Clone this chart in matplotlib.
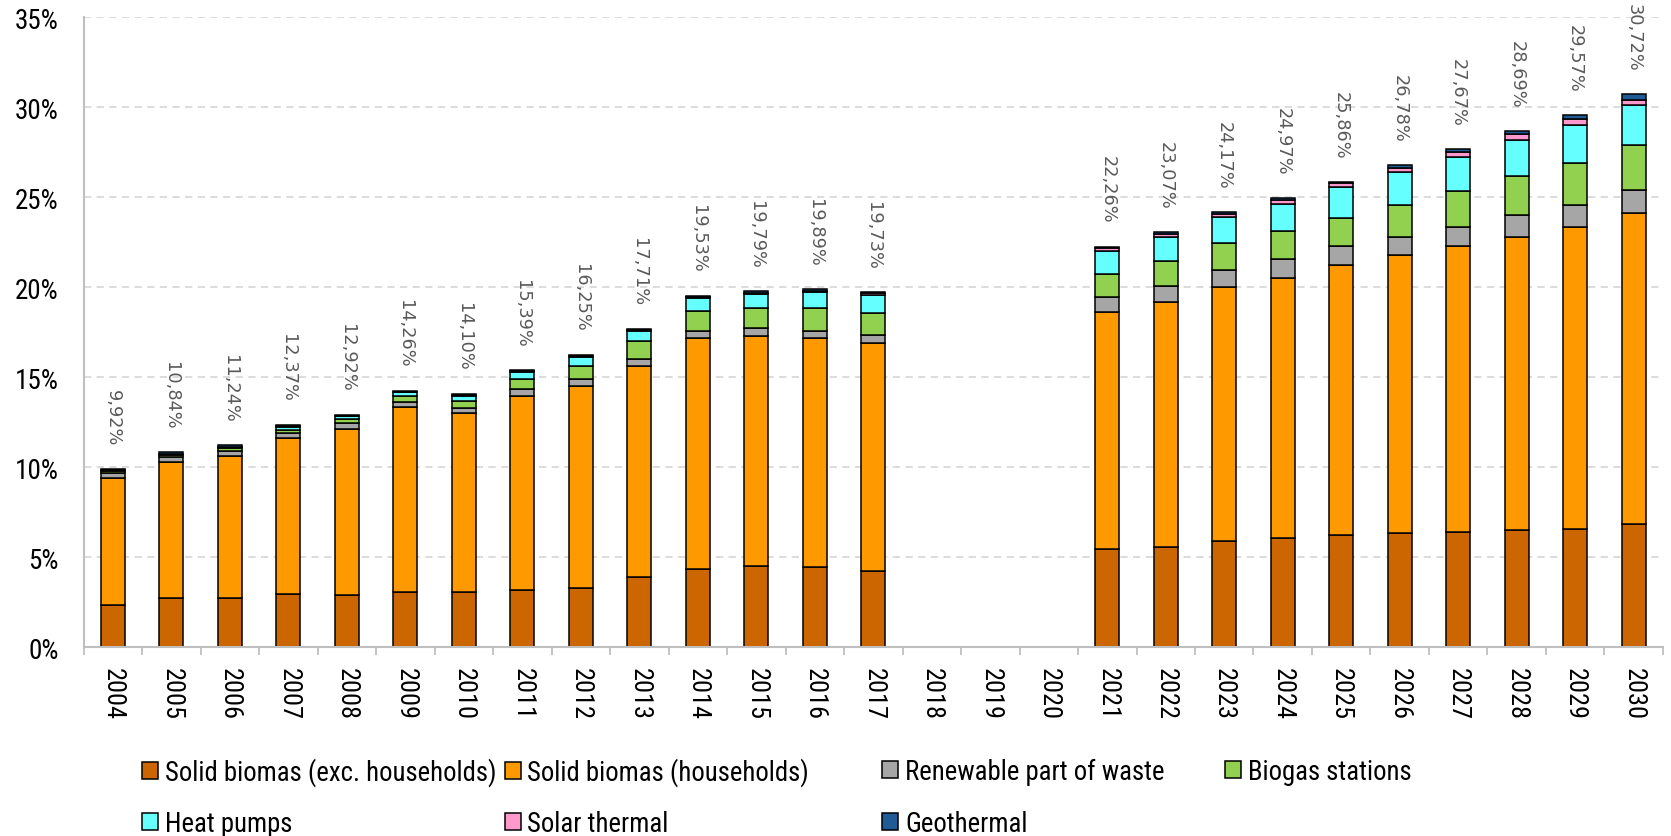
import numpy as np
import matplotlib
matplotlib.use("Agg")
import matplotlib.pyplot as plt
from matplotlib.patches import Patch
from matplotlib.font_manager import FontProperties, findfont

years = [str(y) for y in range(2004, 2031)]
N = None
solid_exc = [2.37, 2.72, 2.72, 2.94, 2.93, 3.09, 3.07, 3.18, 3.29, 3.89, 4.35, 4.53, 4.48, 4.26,
             N, N, N, 5.46, 5.56, 5.92, 6.06, 6.24, 6.36, 6.43, 6.50, 6.55, 6.85]
solid_hh = [7.02, 7.56, 7.91, 8.70, 9.20, 10.24, 9.93, 10.80, 11.25, 11.76, 12.82, 12.78, 12.70, 12.65,
            N, N, N, 13.18, 13.64, 14.08, 14.46, 14.98, 15.41, 15.85, 16.32, 16.79, 17.26]
waste = [0.28, 0.28, 0.29, 0.28, 0.31, 0.31, 0.31, 0.37, 0.37, 0.37, 0.39, 0.43, 0.41, 0.44,
         N, N, N, 0.84, 0.89, 0.98, 1.05, 1.08, 1.05, 1.08, 1.22, 1.26, 1.29]
biogas = [0.14, 0.11, 0.15, 0.17, 0.24, 0.30, 0.39, 0.56, 0.74, 1.02, 1.14, 1.11, 1.26, 1.22,
          N, N, N, 1.26, 1.39, 1.46, 1.54, 1.57, 1.76, 1.97, 2.13, 2.32, 2.48]
heat_pumps = [0.03, 0.05, 0.05, 0.16, 0.15, 0.23, 0.28, 0.37, 0.46, 0.51, 0.69, 0.80, 0.87, 1.00,
              N, N, N, 1.26, 1.33, 1.45, 1.52, 1.71, 1.80, 1.90, 2.04, 2.11, 2.23]
solar = [0.02, 0.03, 0.03, 0.05, 0.04, 0.04, 0.04, 0.05, 0.06, 0.07, 0.06, 0.06, 0.08, 0.09,
         N, N, N, 0.16, 0.16, 0.17, 0.22, 0.20, 0.24, 0.28, 0.30, 0.30, 0.32]
geothermal = [0.06, 0.09, 0.09, 0.07, 0.05, 0.05, 0.08, 0.06, 0.08, 0.09, 0.08, 0.08, 0.09, 0.07,
              N, N, N, 0.10, 0.10, 0.11, 0.12, 0.08, 0.16, 0.16, 0.18, 0.24, 0.29]
totals = [9.92, 10.84, 11.24, 12.37, 12.92, 14.26, 14.10, 15.39, 16.25, 17.71, 19.53, 19.79, 19.89, 19.73,
          N, N, N, 22.26, 23.07, 24.17, 24.97, 25.86, 26.78, 27.67, 28.69, 29.57, 30.72]

series_names = ["Solid biomas (exc. households)", "Solid biomas (households)",
                "Renewable part of waste", "Biogas stations", "Heat pumps",
                "Solar thermal", "Geothermal"]
series_vals = [solid_exc, solid_hh, waste, biogas, heat_pumps, solar, geothermal]
colors = ["#CC6600", "#FF9900", "#A6A6A6", "#92D050", "#66FFFF", "#FF99CC", "#1F5C96"]


def arr(v):
    return np.array([np.nan if x is None else x for x in v], dtype=float)


def pick_font():
    cands = [("Liberation Sans Narrow", "normal"), ("Roboto Condensed", "normal"),
             ("DejaVu Sans", "condensed"), ("Open Sans", "condensed"),
             ("Roboto", "condensed"), ("Noto Sans", "condensed")]
    for fam, st in cands:
        try:
            p = findfont(FontProperties(family=fam, stretch=st), fallback_to_default=False)
        except Exception:
            continue
        low = p.lower()
        if st == "normal" or "condensed" in low or "narrow" in low:
            return FontProperties(family=fam, stretch=st)
    return FontProperties(family="Lato")


BASEFP = pick_font()

fig = plt.figure(figsize=(16.71, 8.37), dpi=100)
renderer = fig.canvas.get_renderer()


def fit_size(sample, target_px):
    fp = BASEFP.copy()
    fp.set_size(20)
    t = fig.text(0, 0, sample, fontproperties=fp)
    w = t.get_window_extent(renderer=renderer).width
    t.remove()
    return 20 * target_px / w


def fprops(size):
    fp = BASEFP.copy()
    fp.set_size(size)
    return fp


ytick_fp = fprops(min(fit_size("35%", 44), 20))
xtick_fp = fprops(min(fit_size("2004", 52), 21))
leg_fp = fprops(min(fit_size("Solid biomas (exc. households)", 331), 22))

ax = fig.add_axes([0.05, 0.2254, 0.9452, 0.7527])

x = np.arange(len(years))
bottom = np.zeros(len(years))
handles = []
for name, vals, col in zip(series_names, series_vals, colors):
    v = arr(vals)
    ax.bar(x, v, bottom=bottom, width=0.41, color=col, edgecolor="black",
           linewidth=1.1, zorder=3)
    bottom = bottom + np.nan_to_num(v)
    handles.append(Patch(facecolor=col, edgecolor="black", linewidth=1.1, label=name))

tot = arr(totals)
for xi, t in zip(x, tot):
    if np.isnan(t):
        continue
    ax.annotate(f"{t:.2f}%".replace(".", ","), (xi, t), xytext=(0, 17),
                textcoords="offset points", ha="center", va="bottom",
                rotation=-90, fontsize=12.8, color="#595959",
                family="DejaVu Sans", zorder=4)

ax.set_xlim(-0.5, len(years) - 0.5)
ax.set_ylim(0, 35)
ax.set_yticks(np.arange(0, 36, 5))
ax.set_yticklabels([f"{v}%" for v in range(0, 36, 5)], fontproperties=ytick_fp)
ax.tick_params(axis="y", length=0, pad=18, colors="black")
ax.set_xticks(x)
ax.set_xticklabels(years, rotation=-90, fontproperties=xtick_fp)
ax.set_xticks(np.arange(-0.5, len(years), 1.0), minor=True)
ax.tick_params(axis="x", which="major", length=0, pad=14)
ax.tick_params(axis="x", which="minor", length=6, width=1.3, color="#BFBFBF")

ax.grid(axis="y", linestyle=(0, (4, 3)), color="#D9D9D9", linewidth=1.3, zorder=0)
ax.set_axisbelow(True)
for s in ["top", "right"]:
    ax.spines[s].set_visible(False)
for s in ["left", "bottom"]:
    ax.spines[s].set_color("#BFBFBF")
    ax.spines[s].set_linewidth(1.5)
ax.spines["bottom"].set_zorder(5)

leg_pos = [(0.085, 0.077), (0.302, 0.077), (0.528, 0.077), (0.733, 0.077),
           (0.085, 0.015), (0.302, 0.015), (0.528, 0.015)]
hsize = 16 / (leg_fp.get_size() / 0.72)
for h, (lx, ly) in zip(handles, leg_pos):
    fig.legend(handles=[h], loc="center left", bbox_to_anchor=(lx, ly),
               frameon=False, borderpad=0, borderaxespad=0,
               handlelength=hsize, handleheight=hsize, handletextpad=0.25,
               prop=leg_fp)

fig.savefig("out.png", dpi=100)
